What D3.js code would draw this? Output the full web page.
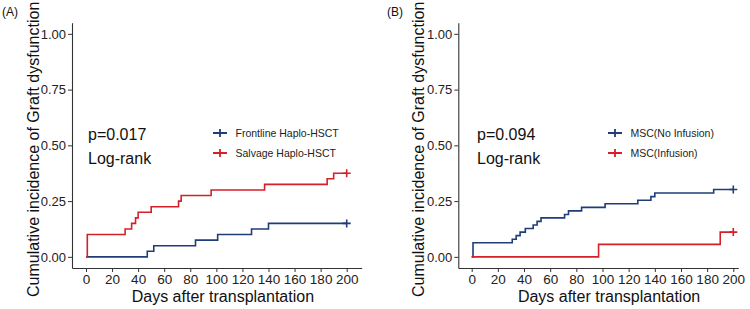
<!DOCTYPE html>
<html>
<head>
<meta charset="utf-8">
<script src="https://cdn.jsdelivr.net/npm/d3@7"></script>
<style>
  body { margin: 0; background: #fff; }
  svg { display: block; font-family: "Liberation Sans", Arial, sans-serif; }
</style>
</head>
<body>
<div id="chart"></div>
<script>
// values
const dayTicks = [0, 20, 40, 60, 80, 100, 120, 140, 160, 180, 200];
const cumTicks = [0, 0.25, 0.5, 0.75, 1];

const frontlineDays = [0, 47, 52, 84, 101, 127, 140, 200];
const frontlineCum = [0, 0.025, 0.05, 0.075, 0.10, 0.125, 0.15, 0.15];
const salvageDays = [0, 1, 30, 35, 38, 40, 50, 71, 73, 96, 137, 185, 190, 200];
const salvageCum = [0, 0.10, 0.125, 0.15, 0.175, 0.20, 0.225, 0.25, 0.275, 0.30, 0.325, 0.35, 0.375, 0.375];

const noInfusionDays = [0, 1, 31, 34, 37, 41, 47, 50, 53, 71, 74, 84, 102, 127, 137, 140, 185, 200];
const noInfusionCum = [0, 0.063, 0.079, 0.095, 0.111, 0.127, 0.143, 0.159, 0.175, 0.19, 0.206, 0.222, 0.238, 0.254, 0.270, 0.286, 0.302, 0.302];
const infusionDays = [0, 97, 190, 200];
const infusionCum = [0, 0.056, 0.111, 0.111];

const panelTags = ["(A)", "(B)"];
const pValues = ["p=0.017", "p=0.094"];
const legendA = ["Frontline Haplo-HSCT", "Salvage Haplo-HSCT"];
const legendB = ["MSC(No Infusion)", "MSC(Infusion)"];

const blue = "#1f3d78";
const red = "#d42129";

const svg = d3.select("#chart").append("svg")
    .attr("width", 750)
    .attr("height", 309);

function toPoints(days, cum) {
    return days.map((d, i) => ({ day: d, cum: cum[i] }));
}

const panels = [
    { tag: panelTags[0], p: pValues[0], labels: legendA, left: 72, right: 361.7, day0: 86, day200: 346.7,
      tagX: 2, titleX: 33.5, pX: 88, legX: 213,
      series: [toPoints(frontlineDays, frontlineCum), toPoints(salvageDays, salvageCum)] },
    { tag: panelTags[1], p: pValues[1], labels: legendB, left: 458.3, right: 738.3, day0: 471.7, day200: 733.3,
      tagX: 387, titleX: 418.5, pX: 477, legX: 608,
      series: [toPoints(noInfusionDays, noInfusionCum), toPoints(infusionDays, infusionCum)] }
];

const plotTop = 22.7, plotBottom = 268;

panels.forEach(pn => {
    let perDay = (pn.day200 - pn.day0) / 200;
    const x = d3.scaleLinear()
        .domain([(pn.left - pn.day0) / perDay, (pn.right - pn.day0) / perDay])
        .range([pn.left, pn.right]);
    const y = d3.scaleLinear()
        .domain([-0.05, 1.05])
        .range([plotBottom, plotTop]);

    const g = svg.append("g");

    // axes
    const xAxis = g.append("g")
        .attr("transform", `translate(0,${plotBottom})`)
        .call(d3.axisBottom(x).tickValues(dayTicks).tickSize(4).tickPadding(2).tickSizeOuter(0));
    xAxis.selectAll("text").attr("font-size", 13.5).attr("fill", "#222");

    const yAxis = g.append("g")
        .attr("transform", `translate(${pn.left},0)`)
        .call(d3.axisLeft(y).tickValues(cumTicks).tickFormat(d3.format(".2f")).tickSize(4).tickPadding(2).tickSizeOuter(0));
    yAxis.selectAll("text").attr("font-size", 13).attr("fill", "#222");

    [xAxis, yAxis].forEach(a => {
        a.attr("font-family", null);
        a.select(".domain").attr("stroke", "#333").attr("stroke-width", 1.1);
        a.selectAll(".tick line").attr("stroke", "#333");
    });

    // titles
    g.append("text")
        .attr("x", x(105))
        .attr("y", 302)
        .attr("text-anchor", "middle")
        .attr("font-size", 16)
        .attr("fill", "#111")
        .text("Days after transplantation");

    g.append("text")
        .attr("transform", `translate(${pn.titleX},${(plotTop + plotBottom) / 2 + 4}) rotate(-90)`)
        .attr("text-anchor", "middle")
        .attr("dy", "0.35em")
        .attr("font-size", 16)
        .attr("fill", "#111")
        .text("Cumulative incidence of Graft dysfunction");

    g.append("text")
        .attr("x", pn.tagX)
        .attr("y", 16)
        .attr("font-size", 12)
        .attr("fill", "#111")
        .text(pn.tag);

    g.append("text")
        .attr("x", pn.pX)
        .attr("y", 140)
        .attr("font-size", 16)
        .attr("fill", "#111")
        .text(pn.p);

    g.append("text")
        .attr("x", pn.pX)
        .attr("y", 164)
        .attr("font-size", 16)
        .attr("fill", "#111")
        .text("Log-rank");

    // step curves
    const line = d3.line()
        .x(d => x(d.day))
        .y(d => y(d.cum))
        .curve(d3.curveStepAfter);

    const colors = [blue, red];
    pn.series.forEach((s, i) => {
        g.append("path")
            .datum(s)
            .attr("fill", "none")
            .attr("stroke", colors[i])
            .attr("stroke-width", 1.6)
            .attr("d", line);

        let last = s[s.length - 1];
        let cx = x(last.day), cy = y(last.cum);
        g.append("path")
            .attr("d", `M${cx - 4},${cy}H${cx + 4}M${cx},${cy - 4}V${cy + 4}`)
            .attr("stroke", colors[i])
            .attr("stroke-width", 1.6);
    });

    // legend
    pn.labels.forEach((lab, i) => {
        let ly = 133 + i * 20;
        let lx = pn.legX;
        g.append("path")
            .attr("d", `M${lx},${ly}H${lx + 14}M${lx + 7},${ly - 4}V${ly + 4}`)
            .attr("stroke", colors[i])
            .attr("stroke-width", 1.8);
        g.append("text")
            .attr("x", lx + 22.5)
            .attr("y", ly + 3.8)
            .attr("font-size", 10.5)
            .attr("fill", "#222")
            .text(lab);
    });
});
</script>
</body>
</html>
